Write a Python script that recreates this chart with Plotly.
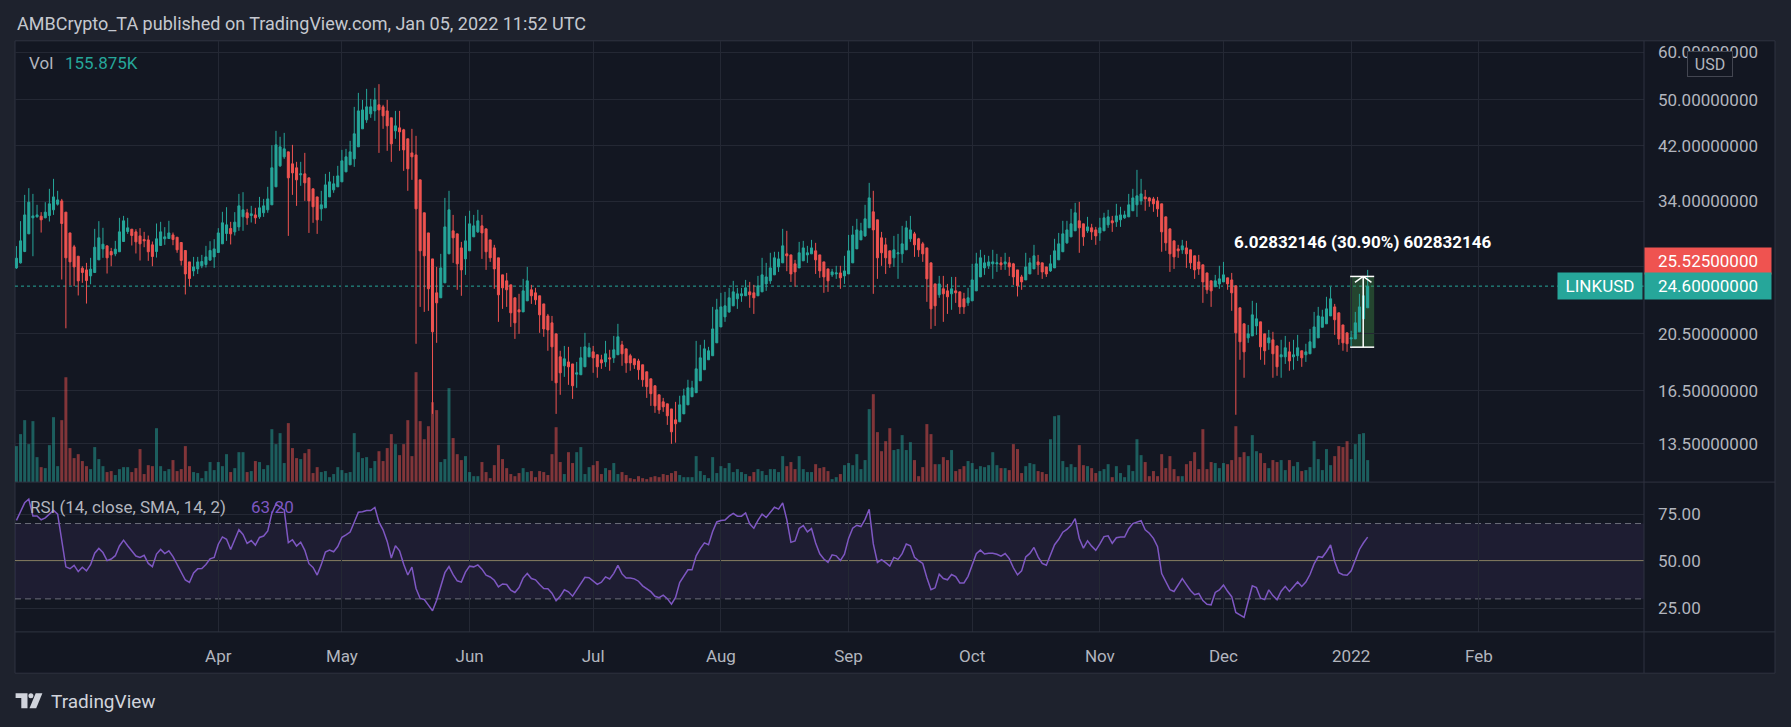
import math
import pandas as pd
import plotly.graph_objects as go

W, H = 1791, 727
FONT = "Roboto, 'Noto Sans', sans-serif"

# ---------------- data (daily LINKUSD candles) ----------------
start_date = "2021-02-11"

opens = [
    26.37, 26.88, 28.07, 30.02, 31.91, 32.03, 32.11, 31.91, 32.19, 32.90,
    33.61, 34.04, 32.61, 30.13, 28.57, 27.57, 26.34, 26.17, 25.58, 25.91,
    27.19, 28.35, 28.68, 28.07, 27.82, 28.04, 29.16, 30.29, 30.56, 30.25,
    29.79, 29.38, 29.34, 28.79, 28.07, 28.72, 29.46, 29.49, 29.90, 29.64,
    29.05, 28.18, 26.98, 26.07, 26.27, 26.58, 26.71, 27.16, 27.50, 27.96,
    28.90, 30.06, 30.64, 30.25, 30.83, 32.03, 32.53, 32.19, 32.27, 32.03,
    32.53, 32.90, 33.53, 35.91, 38.90, 40.26, 41.03, 39.20, 38.61, 37.59,
    37.73, 37.16, 35.64, 34.56, 33.02, 33.15, 34.56, 35.50, 35.91, 36.60,
    38.02, 39.05, 39.95, 41.82, 44.79, 46.35, 47.42, 47.96, 49.08, 48.70,
    47.96, 46.71, 44.45, 44.96, 44.62, 43.12, 40.87, 40.56, 36.88, 32.53,
    30.13, 27.29, 23.98, 23.53, 24.91, 27.82, 30.37, 30.02, 28.46, 27.29,
    28.14, 29.68, 30.25, 30.95, 30.60, 29.34, 28.46, 27.40, 25.68, 25.10,
    24.72, 23.53, 22.48, 22.30, 23.26, 24.26, 23.98, 23.71, 22.99, 21.96,
    21.39, 20.51, 18.79, 18.16, 18.43, 18.29, 17.59, 17.55, 18.09, 18.79,
    19.15, 18.94, 18.58, 18.43, 18.72, 18.72, 18.94, 19.67, 19.37, 18.87,
    18.65, 18.50, 18.23, 17.75, 17.28, 16.83, 16.26, 15.83, 15.71, 15.41,
    14.78, 14.67, 15.12, 15.65, 16.14, 16.39, 17.15, 17.89, 18.58, 18.87,
    19.82, 21.06, 21.88, 22.30, 22.82, 23.44, 23.71, 23.71, 24.07, 23.98,
    23.71, 24.07, 24.81, 25.10, 25.68, 26.47, 26.88, 27.82, 27.71, 26.78,
    26.37, 27.09, 27.71, 27.82, 28.14, 27.71, 26.98, 26.27, 25.68, 25.77,
    25.87, 25.58, 25.77, 26.88, 28.35, 29.34, 29.79, 30.72, 32.65, 31.67,
    29.57, 28.79, 28.14, 27.40, 27.82, 27.82, 28.25, 29.46, 30.02, 29.46,
    28.90, 28.46, 26.88, 24.81, 23.80, 24.35, 24.16, 23.89, 24.16, 24.07,
    23.44, 23.08, 23.26, 24.16, 25.48, 26.37, 26.58, 26.78, 26.78, 26.88,
    26.78, 26.88, 26.78, 26.17, 25.48, 25.19, 25.77, 26.27, 26.98, 26.88,
    26.47, 26.07, 26.37, 27.19, 28.04, 29.01, 29.68, 30.37, 31.55, 31.19,
    30.37, 30.72, 30.48, 30.13, 30.37, 31.07, 31.55, 31.43, 31.67, 31.91,
    32.03, 32.78, 33.53, 34.04, 34.56, 34.43, 34.30, 34.04, 33.66, 32.03,
    30.60, 29.23, 28.35, 28.25, 28.46, 28.25, 27.61, 26.98, 26.68, 25.87,
    25.10, 24.54, 24.81, 25.00, 25.39, 25.19, 24.63, 22.65, 21.31, 20.20,
    20.35, 21.14, 21.47, 20.51, 19.82, 20.05, 19.59, 18.79, 18.79, 19.15,
    18.79, 18.87, 19.23, 18.94, 19.01, 19.45, 20.20, 21.03, 21.31, 21.96,
    22.73, 22.22, 21.22, 20.59, 20.12, 20.12, 20.67, 21.72, 22.65,
]

highs = [
    28.65, 31.51, 34.83, 35.73, 34.96, 33.53, 32.61, 33.87, 35.64, 37.02,
    35.37, 34.30, 32.61, 30.13, 28.79, 27.57, 26.54, 26.88, 27.40, 30.60,
    31.51, 30.72, 28.68, 28.46, 29.23, 31.91, 32.15, 31.91, 30.56, 30.56,
    30.68, 30.25, 29.83, 29.16, 31.23, 31.43, 30.80, 31.55, 30.17, 29.64,
    29.05, 28.18, 26.98, 27.50, 27.50, 27.71, 28.68, 29.19, 29.42, 30.68,
    32.65, 33.23, 31.43, 32.61, 34.96, 35.19, 33.02, 33.40, 33.15, 34.56,
    34.30, 35.91, 42.08, 44.45, 43.45, 44.11, 41.03, 42.14, 39.50, 39.50,
    40.87, 37.16, 35.64, 34.56, 35.37, 37.73, 38.02, 37.44, 38.90, 41.34,
    41.50, 42.79, 48.70, 51.37, 50.02, 52.16, 50.21, 52.36, 53.10, 49.08,
    50.02, 46.71, 47.96, 47.96, 44.79, 43.12, 44.79, 43.61, 36.88, 32.53,
    30.13, 27.29, 26.47, 27.82, 34.43, 35.37, 32.27, 30.02, 29.12, 32.15,
    32.78, 32.27, 32.90, 32.27, 30.60, 29.34, 28.79, 27.40, 25.68, 25.87,
    24.72, 23.53, 23.89, 25.29, 26.47, 24.72, 24.44, 23.71, 22.99, 22.13,
    21.96, 20.51, 19.23, 19.59, 19.52, 18.29, 18.43, 19.52, 20.59, 19.82,
    19.59, 18.94, 18.94, 19.97, 19.30, 20.35, 21.31, 19.97, 19.37, 19.01,
    18.65, 18.65, 18.23, 17.75, 17.28, 16.83, 16.26, 16.07, 15.71, 15.41,
    15.83, 16.20, 16.64, 17.22, 17.15, 19.97, 19.67, 20.05, 19.52, 22.73,
    23.44, 23.98, 24.07, 24.44, 25.10, 24.44, 24.44, 25.19, 25.00, 24.72,
    25.58, 27.40, 26.88, 27.93, 28.04, 28.04, 30.60, 30.37, 27.71, 27.19,
    29.12, 29.23, 28.68, 29.34, 29.01, 27.71, 26.98, 26.27, 26.27, 26.58,
    26.58, 27.61, 29.90, 30.95, 31.79, 31.31, 33.53, 36.46, 35.37, 31.67,
    30.25, 29.57, 28.14, 29.79, 30.02, 30.95, 31.55, 32.15, 30.25, 29.57,
    29.12, 28.46, 26.88, 24.81, 25.58, 25.58, 24.81, 25.48, 25.48, 24.07,
    23.98, 24.44, 26.78, 27.93, 28.25, 27.71, 27.61, 28.25, 27.82, 27.50,
    27.93, 27.50, 26.88, 26.17, 25.68, 27.93, 27.40, 28.79, 27.71, 26.88,
    26.47, 27.71, 29.46, 30.13, 31.55, 31.55, 33.02, 33.78, 33.91, 31.19,
    32.03, 31.19, 30.83, 31.91, 32.53, 32.90, 32.15, 33.66, 33.28, 32.78,
    34.96, 35.64, 38.31, 37.02, 35.50, 34.56, 34.56, 34.56, 33.66, 32.03,
    30.60, 29.23, 28.79, 29.34, 29.23, 28.25, 27.61, 27.71, 26.68, 25.87,
    25.10, 25.68, 26.58, 26.98, 25.39, 25.87, 24.63, 22.65, 21.31, 21.22,
    23.26, 23.08, 21.47, 20.51, 20.82, 20.67, 19.59, 20.05, 20.35, 19.90,
    20.05, 20.43, 19.23, 19.75, 20.90, 22.30, 22.73, 22.48, 23.62, 24.54,
    22.99, 22.22, 21.22, 20.59, 20.75, 22.30, 23.89, 25.00, 26.17,
]

lows = [
    26.27, 26.81, 28.00, 30.02, 27.57, 31.95, 30.17, 31.87, 31.47, 32.27,
    33.44, 25.23, 20.95, 24.66, 24.60, 23.74, 24.91, 23.02, 24.78, 25.91,
    27.19, 27.40, 25.81, 26.54, 27.57, 28.04, 29.16, 30.02, 28.72, 27.86,
    27.12, 28.53, 27.09, 26.54, 27.43, 28.72, 28.79, 29.49, 28.75, 27.93,
    26.61, 23.83, 24.57, 25.55, 25.77, 26.34, 26.41, 27.12, 26.37, 27.96,
    28.90, 29.23, 28.83, 29.83, 30.37, 30.37, 31.07, 31.35, 31.19, 31.79,
    32.03, 32.53, 33.53, 35.91, 38.75, 39.95, 29.79, 34.83, 33.40, 36.05,
    34.04, 30.13, 31.31, 30.02, 31.55, 33.15, 34.56, 35.10, 35.91, 36.60,
    38.02, 39.05, 38.75, 41.82, 44.79, 45.82, 46.71, 46.18, 40.87, 44.79,
    41.19, 39.50, 43.12, 41.19, 38.16, 35.37, 36.88, 19.75, 22.73, 22.30,
    22.39, 15.12, 19.82, 23.53, 24.91, 27.82, 26.88, 24.26, 23.71, 25.68,
    28.14, 29.68, 30.13, 27.29, 26.17, 26.98, 24.35, 21.47, 22.56, 22.73,
    21.06, 20.12, 20.51, 22.30, 23.26, 22.99, 22.91, 20.59, 20.28, 19.23,
    17.15, 15.12, 16.26, 17.41, 16.89, 16.01, 16.70, 17.55, 18.09, 18.79,
    17.68, 17.35, 17.95, 18.09, 17.82, 18.36, 18.94, 18.16, 17.68, 17.82,
    17.95, 17.22, 16.77, 16.07, 15.59, 15.18, 15.12, 15.24, 14.50, 13.49,
    13.55, 14.67, 15.12, 15.65, 16.14, 16.39, 17.15, 17.89, 18.58, 18.87,
    19.82, 21.06, 21.47, 22.22, 22.82, 22.56, 23.17, 23.71, 22.65, 22.13,
    23.71, 24.07, 24.16, 24.81, 25.68, 25.97, 26.88, 26.04, 25.00, 24.54,
    26.37, 27.09, 26.88, 27.82, 25.77, 25.39, 23.98, 24.07, 25.48, 25.29,
    24.35, 24.81, 25.77, 26.88, 28.35, 29.34, 29.68, 30.72, 23.89, 25.29,
    26.58, 25.77, 26.37, 26.47, 25.29, 26.88, 28.25, 29.12, 27.50, 27.50,
    26.98, 23.17, 20.90, 21.14, 23.53, 21.47, 22.13, 22.48, 23.08, 22.13,
    22.13, 22.82, 23.26, 24.16, 25.48, 25.68, 26.27, 25.29, 25.97, 26.17,
    26.17, 25.58, 24.72, 23.65, 24.26, 25.19, 25.77, 26.27, 25.68, 25.29,
    25.48, 25.97, 26.37, 27.19, 28.04, 28.90, 29.68, 30.37, 27.93, 28.68,
    30.13, 29.34, 28.79, 29.23, 30.37, 30.72, 30.25, 30.83, 30.83, 31.79,
    32.03, 32.78, 32.03, 33.53, 32.78, 33.28, 32.65, 32.03, 28.04, 28.14,
    25.97, 26.27, 27.40, 27.82, 26.37, 26.27, 25.29, 25.68, 23.08, 23.89,
    22.73, 24.54, 24.35, 25.00, 24.26, 22.39, 15.07, 18.58, 17.35, 19.82,
    20.35, 20.43, 18.58, 18.23, 19.30, 17.35, 17.48, 17.35, 18.29, 17.82,
    17.89, 18.50, 18.09, 18.43, 19.01, 19.45, 20.20, 21.03, 21.31, 21.96,
    20.43, 19.67, 19.23, 19.15, 19.59, 20.12, 20.67, 21.72, 22.65,
]

closes = [
    27.36, 29.23, 32.27, 33.87, 32.15, 32.27, 31.67, 32.61, 33.66, 34.56,
    34.17, 31.23, 27.40, 26.98, 26.47, 25.10, 25.91, 25.13, 26.24, 28.53,
    29.57, 28.86, 27.40, 27.71, 28.32, 30.25, 31.55, 30.72, 29.83, 29.12,
    28.90, 29.23, 28.04, 27.54, 29.46, 30.25, 29.68, 30.13, 29.38, 28.25,
    27.12, 25.77, 25.32, 26.47, 26.98, 27.02, 27.50, 28.18, 28.35, 30.13,
    31.31, 31.07, 30.02, 31.39, 33.40, 32.90, 31.91, 32.40, 31.91, 33.15,
    33.40, 34.30, 38.61, 42.14, 41.82, 41.50, 37.16, 37.87, 36.88, 37.73,
    36.46, 34.04, 33.28, 31.67, 33.53, 36.18, 36.60, 36.32, 37.44, 39.65,
    40.26, 41.03, 43.95, 47.96, 48.14, 48.70, 48.70, 50.02, 48.14, 47.06,
    45.30, 42.30, 45.30, 44.28, 41.34, 38.46, 40.26, 33.02, 28.14, 27.61,
    24.35, 20.67, 23.08, 26.37, 30.83, 32.90, 29.57, 26.78, 26.17, 29.23,
    31.19, 30.95, 31.55, 30.13, 28.04, 27.40, 26.27, 23.80, 24.44, 24.26,
    22.22, 21.39, 22.30, 24.16, 25.10, 23.71, 23.35, 22.05, 20.90, 20.82,
    19.52, 17.02, 17.68, 18.65, 18.09, 16.83, 17.68, 18.72, 19.52, 19.45,
    18.72, 18.09, 18.36, 19.01, 18.65, 19.30, 20.28, 19.01, 18.36, 18.36,
    18.23, 17.89, 17.22, 16.77, 16.33, 15.59, 15.35, 15.53, 15.01, 14.12,
    14.56, 15.65, 16.20, 16.70, 16.70, 17.95, 18.72, 19.37, 19.23, 20.90,
    22.48, 22.73, 22.82, 23.53, 24.07, 23.89, 23.89, 24.44, 23.80, 23.53,
    24.63, 25.68, 25.48, 26.37, 27.40, 27.29, 28.68, 27.61, 25.77, 25.97,
    27.93, 28.46, 27.93, 28.46, 27.19, 26.07, 25.48, 25.10, 25.97, 25.87,
    25.39, 26.07, 28.14, 29.90, 30.48, 30.37, 31.79, 34.43, 30.48, 27.40,
    27.93, 27.40, 26.78, 28.25, 27.93, 28.90, 30.72, 30.48, 28.79, 28.25,
    27.82, 25.29, 22.56, 22.82, 24.81, 23.89, 23.62, 24.35, 23.98, 22.73,
    22.73, 23.53, 25.19, 26.78, 27.40, 26.88, 26.98, 26.98, 26.88, 26.68,
    26.98, 26.47, 25.48, 24.63, 25.00, 26.47, 26.88, 27.61, 26.68, 25.97,
    25.77, 26.78, 28.14, 28.90, 30.02, 30.48, 31.19, 32.53, 30.72, 29.68,
    30.83, 30.25, 29.79, 30.72, 31.91, 32.03, 31.31, 32.15, 32.27, 32.27,
    33.53, 34.43, 34.70, 34.96, 34.30, 34.04, 33.66, 33.02, 30.25, 29.01,
    27.82, 27.50, 28.14, 28.68, 27.82, 26.88, 26.17, 26.27, 25.00, 24.26,
    24.16, 25.10, 25.29, 25.68, 24.81, 23.98, 20.59, 19.90, 19.15, 20.51,
    22.05, 21.72, 19.52, 19.23, 20.20, 19.01, 18.09, 18.94, 19.45, 18.50,
    18.94, 19.45, 18.72, 19.15, 19.90, 21.06, 21.96, 21.88, 22.56, 23.44,
    21.64, 20.12, 19.82, 19.75, 20.20, 21.39, 22.73, 23.71, 24.60,
]

volumes_k = [
    255, 340, 439, 269, 432, 177, 106, 99, 262, 460,
    113, 439, 743, 241, 170, 198, 149, 113, 92, 248,
    163, 113, 71, 78, 50, 92, 106, 106, 71, 99,
    234, 57, 120, 113, 382, 113, 78, 92, 156, 78,
    92, 255, 113, 71, 64, 28, 78, 142, 85, 142,
    113, 198, 71, 99, 212,
    212, 71, 78, 149, 142, 92, 120, 375, 269, 347,
    135, 418, 241, 170, 163, 205, 234, 64, 106, 71,
    78, 35, 57, 106, 85, 64, 71, 347, 212, 170,
    177, 99, 149, 219, 149, 241, 340, 269, 191, 269,
    439, 184, 779, 432, 304, 396, 566, 510, 142, 163,
    666, 312, 198, 156, 184, 71,
    42, 42, 142, 71, 28, 120, 262, 163, 99, 57,
    42, 64, 99, 71, 78, 35, 78, 71, 50, 198,
    389, 142, 57, 212, 135, 212, 248, 57, 106, 120,
    149, 57, 99, 85, 135, 57, 71, 50, 28, 21,
    42, 28, 21, 35, 42, 35, 57, 50, 64, 78,
    50, 35, 35, 35, 184,
    78, 50, 28, 177, 64, 113, 99, 135, 71, 92,
    71, 57, 42, 71, 92, 78, 50, 92, 92, 71,
    184, 113, 142, 92, 184, 92, 71, 71, 127, 99,
    106, 78, 21, 35, 57, 120, 135, 120, 198, 92,
    156, 517, 623, 354, 219, 290, 382, 227, 234, 333,
    227, 283, 156, 42, 106, 411,
    340, 127, 127, 177, 156, 227, 78, 92, 113, 149,
    135, 92, 113, 106, 120, 212, 120, 99, 99, 85,
    269, 234, 64, 113, 135, 127, 78, 71, 57, 304,
    467, 474, 149, 106, 127, 106, 262, 120, 113, 99,
    64, 78, 92, 127, 35, 113, 64, 35, 120, 78,
    304, 191, 142, 42, 78, 42,
    198, 99, 184, 92, 42, 42, 127, 149, 212, 92,
    375, 92, 142, 135, 99, 135, 127, 156, 396, 177,
    212, 184, 333, 219, 205, 135, 99, 156, 142, 156,
    85, 156, 113, 142, 78, 85, 106, 290, 163, 85,
    234, 120, 184, 255, 248, 290, 163, 269, 340, 347,
    155.875,
]

# RSI for the first bars (before 14 bars of history exist)
rsi_warmup = [71.7, 76, 81, 83, 74, 74, 72, 73, 75, 77, 75, 62, 47, 46]
rsi_length = 14

price_ticks = [13.5, 16.5, 20.5, 26.5, 34, 42, 50, 60]
price_tick_text = ["13.50000000", "16.50000000", "20.50000000", "",
                   "34.00000000", "42.00000000", "50.00000000", "60.00000000"]
rsi_ticks = [25, 50, 75]
rsi_tick_text = ["25.00", "50.00", "75.00"]
month_ticks = ["2021-04-01", "2021-05-01", "2021-06-01", "2021-07-01", "2021-08-01",
               "2021-09-01", "2021-10-01", "2021-11-01", "2021-12-01", "2022-01-01",
               "2022-02-01"]
month_text = ["Apr", "May", "Jun", "Jul", "Aug", "Sep", "Oct", "Nov", "Dec", "2022", "Feb"]

last_price = 24.60
last_price_text = "24.60000000"
measure_high = 25.525
measure_high_text = "25.52500000"
measure_low = 19.49707854
measure_text = "6.02832146 (30.90%) 602832146"
measure_x0 = "2021-12-31 18:00"
measure_x1 = "2022-01-06 14:00"
measure_xc = "2022-01-03 22:00"
vol_last_text = "155.875K"
rsi_last_text = "63.20"
header_text = "AMBCrypto_TA published on TradingView.com, Jan 05, 2022 11:52 UTC"

n = len(closes)
assert len(opens) == n and len(highs) == n and len(lows) == n and len(volumes_k) == n, \
    (len(opens), len(highs), len(lows), len(closes), len(volumes_k))

dates = pd.date_range(start_date, periods=n, freq="D")

# ---------------- RSI (Wilder) ----------------
gains = [0.0] + [max(closes[i] - closes[i - 1], 0) for i in range(1, n)]
losses = [0.0] + [max(closes[i - 1] - closes[i], 0) for i in range(1, n)]
rsi = list(rsi_warmup) + [None] * (n - len(rsi_warmup))
ag = sum(gains[1:rsi_length + 1]) / rsi_length
al = sum(losses[1:rsi_length + 1]) / rsi_length
rsi[rsi_length] = 100 - 100 / (1 + ag / al) if al > 0 else 100
for i in range(rsi_length + 1, n):
    ag = (ag * (rsi_length - 1) + gains[i]) / rsi_length
    al = (al * (rsi_length - 1) + losses[i]) / rsi_length
    rsi[i] = 100 - 100 / (1 + ag / al) if al > 0 else 100

# ---------------- styling ----------------
BG_OUT = "#1e222d"
BG = "#131722"
GRID = "#242834"
SEP = "#2f3340"
UP = "#26a69a"
DOWN = "#ef5350"
TXT = "#b2b5be"
vol_colors = ["rgba(38,166,154,0.5)" if c >= o else "rgba(239,83,80,0.5)"
              for o, c in zip(opens, closes)]


def px(x):
    return x / W


def py(y):
    return 1 - y / H


X_L, X_R = 15, 1644
PRICE_TOP, PANE_SEP, RSI_BOT, FRAME_BOT = 40.8, 482.1, 631.9, 673.2

fig = go.Figure()
fig.add_trace(go.Bar(x=dates, y=volumes_k, marker=dict(color=vol_colors, line=dict(width=0)),
                     width=0.72 * 86400000, xaxis="x2", yaxis="y", hoverinfo="skip",
                     showlegend=False))
fig.add_trace(go.Candlestick(x=dates, open=opens, high=highs, low=lows, close=closes,
                             xaxis="x2", yaxis="y2", whiskerwidth=0,
                             increasing=dict(line=dict(color=UP, width=1), fillcolor=UP),
                             decreasing=dict(line=dict(color=DOWN, width=1), fillcolor=DOWN),
                             hoverinfo="skip", showlegend=False))
fig.add_trace(go.Scatter(x=dates, y=rsi, xaxis="x", yaxis="y3", mode="lines",
                         line=dict(color="#7e57c2", width=1.5), hoverinfo="skip",
                         showlegend=False))

x_range = ["2021-02-10 15:36", "2022-03-13 01:55"]
tickfont = dict(family=FONT, size=17, color=TXT)

shapes = [
    dict(type="rect", xref="paper", yref="paper", x0=px(15), x1=px(1775),
         y0=py(FRAME_BOT), y1=py(PRICE_TOP), fillcolor=BG, line=dict(color=SEP, width=1),
         layer="below"),
    dict(type="rect", xref="x domain", yref="y3", x0=0, x1=1, y0=30, y1=70,
         fillcolor="rgba(126,87,194,0.1)", line=dict(width=0), layer="below"),
    dict(type="line", xref="x domain", yref="y3", x0=0, x1=1, y0=70, y1=70,
         line=dict(color="#6b6e79", width=1, dash="6px,4px"), layer="below"),
    dict(type="line", xref="x domain", yref="y3", x0=0, x1=1, y0=30, y1=30,
         line=dict(color="#6b6e79", width=1, dash="6px,4px"), layer="below"),
    dict(type="line", xref="x domain", yref="y3", x0=0, x1=1, y0=50, y1=50,
         line=dict(color="#dccb86", width=1.2), layer="below"),
    dict(type="rect", xref="x2", yref="y2", x0=measure_x0, x1=measure_x1,
         y0=measure_low, y1=measure_high, fillcolor="rgba(76,175,80,0.3)",
         line=dict(width=0), layer="below"),
    dict(type="line", xref="x2 domain", yref="y2", x0=0, x1=1, y0=last_price, y1=last_price,
         line=dict(color=UP, width=1, dash="dot"), layer="below"),
    dict(type="line", xref="x2", yref="y2", x0=measure_x0, x1=measure_x1,
         y0=measure_high, y1=measure_high, line=dict(color="#ffffff", width=1.5)),
    dict(type="line", xref="x2", yref="y2", x0=measure_x0, x1=measure_x1,
         y0=measure_low, y1=measure_low, line=dict(color="#ffffff", width=1.5)),
    dict(type="line", xref="x2", yref="y2", x0=measure_xc, x1=measure_xc,
         y0=measure_low, y1=measure_high, line=dict(color="#ffffff", width=1.5)),
    dict(type="line", xref="x2", yref="y2", x0="2022-01-01 22:00", x1=measure_xc,
         y0=24.95, y1=measure_high, line=dict(color="#ffffff", width=1.5)),
    dict(type="line", xref="x2", yref="y2", x0="2022-01-05 22:00", x1=measure_xc,
         y0=24.95, y1=measure_high, line=dict(color="#ffffff", width=1.5)),
    dict(type="line", xref="paper", yref="paper", x0=px(X_R), x1=px(X_R),
         y0=py(FRAME_BOT), y1=py(PRICE_TOP), line=dict(color=SEP, width=1)),
    dict(type="line", xref="paper", yref="paper", x0=px(15), x1=px(1775),
         y0=py(PANE_SEP), y1=py(PANE_SEP), line=dict(color=SEP, width=1)),
    dict(type="line", xref="paper", yref="paper", x0=px(15), x1=px(1775),
         y0=py(RSI_BOT), y1=py(RSI_BOT), line=dict(color=SEP, width=1)),
]

LOGO = "#d1d4dc"
p1 = [(15.6, 693.3), (27.5, 693.3), (27.5, 708.3), (21.3, 708.3), (21.3, 698.0), (15.6, 698.0)]
p2 = [(29.5, 708.3), (35.7, 693.3), (42.4, 693.3), (36.2, 708.3)]
for poly in (p1, p2):
    path = "M " + " L ".join(f"{px(a):.5f},{py(b):.5f}" for a, b in poly) + " Z"
    shapes.append(dict(type="path", xref="paper", yref="paper", path=path,
                       fillcolor=LOGO, line=dict(width=0)))
shapes.append(dict(type="circle", xref="paper", yref="paper", x0=px(28.4), x1=px(33.4),
                   y0=py(698.3), y1=py(693.3), fillcolor=LOGO, line=dict(width=0)))


def ann(text, x, y, size=17, color=TXT, xanchor="left", **kw):
    d = dict(text=text, x=px(x), y=py(y), xref="paper", yref="paper", xanchor=xanchor,
             yanchor="middle", showarrow=False,
             font=dict(family=FONT, size=size, color=color))
    d.update(kw)
    return d


annotations = [
    ann(header_text, 15, 23.3, size=18, color="#c5c8cf"),
    ann("Vol", 26.5, 63.3),
    ann(vol_last_text, 63, 63.3, color=UP),
    ann("RSI (14, close, SMA, 14, 2)", 27.5, 506.7),
    ann(rsi_last_text, 249, 506.7, color="#7e57c2"),
    ann("TradingView", 49, 701.5, size=19, color=LOGO),
    ann("USD", 1710, 64.5, size=16, xanchor="center", bgcolor=BG, bordercolor="#434651",
        borderwidth=1, borderpad=2, width=40, height=20),
    dict(text=measure_text, x=measure_xc, y=math.log10(measure_high), xref="x2", yref="y2",
         xanchor="center", yanchor="middle", yshift=34, showarrow=False,
         font=dict(family=FONT, size=17, color="#ffffff", weight="bold")),
    dict(text=measure_high_text, x=px(X_R), y=math.log10(measure_high), xref="paper",
         yref="y2", xanchor="left", yanchor="middle", yshift=15, showarrow=False,
         bgcolor=DOWN, width=124, height=24, borderpad=1,
         font=dict(family=FONT, size=17, color="#ffffff")),
    dict(text=last_price_text, x=px(X_R), y=math.log10(last_price), xref="paper",
         yref="y2", xanchor="left", yanchor="middle", showarrow=False,
         bgcolor=UP, width=124, height=24, borderpad=1,
         font=dict(family=FONT, size=17, color="#ffffff")),
    dict(text="LINKUSD", x=px(X_R - 1), y=math.log10(last_price), xref="paper",
         yref="y2", xanchor="right", yanchor="middle", showarrow=False,
         bgcolor=UP, width=82, height=24, borderpad=1,
         font=dict(family=FONT, size=17, color="#ffffff")),
]

fig.update_layout(
    width=W, height=H, margin=dict(l=0, r=0, t=0, b=0),
    paper_bgcolor=BG_OUT, plot_bgcolor="rgba(0,0,0,0)",
    showlegend=False, boxgap=0.3, boxgroupgap=0.3,
    xaxis=dict(type="date", domain=[px(X_L), px(X_R)], range=x_range, anchor="y3",
               tickvals=month_ticks, ticktext=month_text, tickfont=tickfont,
               showgrid=True, gridcolor=GRID, gridwidth=1, ticks="", ticklabelstandoff=12,
               zeroline=False, showline=False, rangeslider=dict(visible=False),
               fixedrange=True),
    xaxis2=dict(type="date", domain=[px(X_L), px(X_R)], range=x_range, anchor="y",
                matches="x", showticklabels=False, tickvals=month_ticks,
                showgrid=True, gridcolor=GRID, gridwidth=1, ticks="",
                zeroline=False, showline=False, rangeslider=dict(visible=False)),
    yaxis=dict(domain=[py(PANE_SEP), py(PRICE_TOP)], range=[0, 3127], anchor="x2",
               visible=False, fixedrange=True),
    yaxis2=dict(overlaying="y", side="right", anchor="x2", type="log",
                range=[math.log10(11.66), math.log10(62.64)],
                tickvals=price_ticks, ticktext=price_tick_text, tickfont=tickfont,
                showgrid=True, gridcolor=GRID, gridwidth=1, ticks="", ticklabelstandoff=13,
                zeroline=False, showline=False, fixedrange=True),
    yaxis3=dict(domain=[py(RSI_BOT), py(PANE_SEP)], range=[12.47, 92.0], side="right",
                anchor="x", tickvals=rsi_ticks, ticktext=rsi_tick_text, tickfont=tickfont,
                showgrid=True, gridcolor=GRID, gridwidth=1, ticks="", ticklabelstandoff=13,
                zeroline=False, showline=False, fixedrange=True),
    shapes=shapes,
    annotations=annotations,
)

fig.write_html("out.html", config={"displayModeBar": False},
               post_script="document.body.style.margin='0px';"
                           "document.body.style.overflow='hidden';"
                           "document.body.style.background='" + BG_OUT + "';")
